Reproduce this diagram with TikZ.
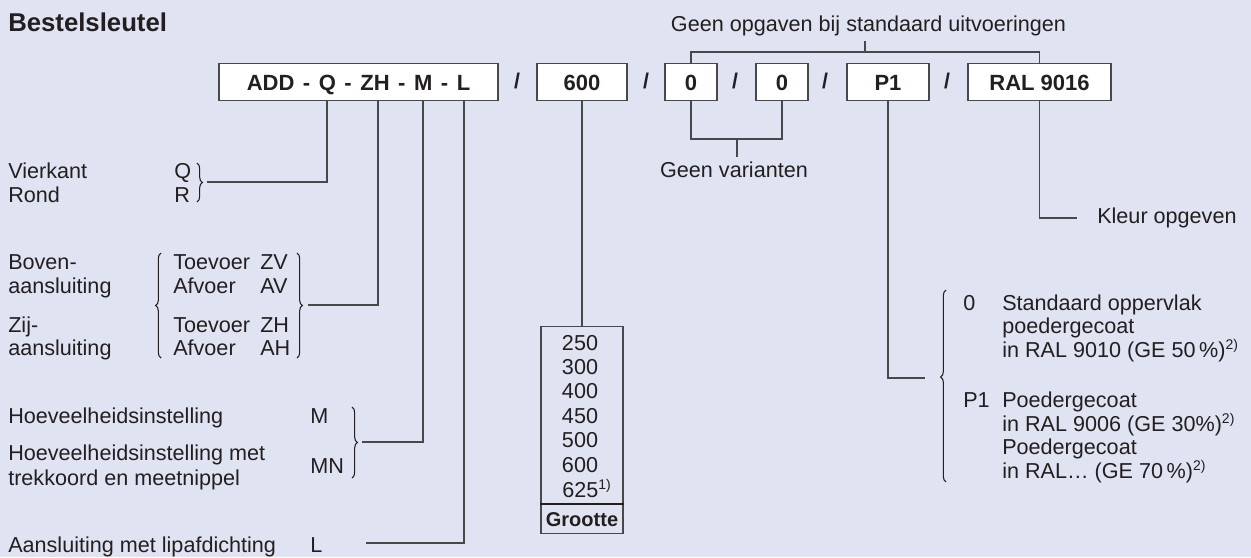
\documentclass[tikz,border=0pt]{standalone}
\usepackage{fontspec}
\setmainfont{Liberation Sans}
\usetikzlibrary{decorations.pathreplacing,calc}
\definecolor{bg}{RGB}{223,227,242}
\definecolor{ink}{RGB}{35,31,32}
\definecolor{linec}{RGB}{72,72,75}
\newcommand\supmark[1]{\raisebox{5.5pt}{\fontsize{10.5pt}{11pt}\selectfont #1}}
\begin{document}
\begin{tikzpicture}[x=0.75pt,y=-0.75pt,
  txt/.style={anchor=base west,inner sep=0pt,text=ink,font=\fontsize{16.2pt}{19pt}\selectfont},
  ctxt/.style={txt,anchor=base},
  keybox/.style={draw=linec,fill=white,line width=0.9pt,minimum height=27.75pt,inner sep=0pt,
    text height=12.8pt,text depth=0pt,text=ink,font=\fontsize{16.5pt}{19pt}\selectfont\bfseries},
  slash/.style={anchor=base,inner sep=0pt,text=ink,font=\fontsize{16pt}{19pt}\selectfont\bfseries},
  conn/.style={draw=linec,line width=0.9pt},
  brc/.style={draw=ink,line width=0.8pt,decorate,decoration={brace,amplitude=4pt}},
]
\fill[bg] (0,0) rectangle (1251,557);
\useasboundingbox (0,0) rectangle (1251,557);

% title
\node[txt,font=\fontsize{19.3pt}{22pt}\selectfont\bfseries] (title) at (8,31) {Bestelsleutel};

% top boxes
\node[keybox,minimum width=209.25pt] (key) at (358.5,82) {\spaceskip=6.4pt\relax ADD - Q - ZH - M - L};
\node[slash] (s1) at (517,88.5) {/};
\node[keybox,minimum width=67.5pt] (b600) at (582,82) {600};
\node[slash] (s2) at (646,88.5) {/};
\node[keybox,minimum width=39pt] (z1) at (691,82) {0};
\node[slash] (s3) at (735,88.5) {/};
\node[keybox,minimum width=39pt] (z2) at (782,82) {0};
\node[slash] (s4) at (825,88.5) {/};
\node[keybox,minimum width=61.5pt] (p1) at (888,82) {P1};
\node[slash] (s5) at (947,88.5) {/};
\node[keybox,minimum width=107.25pt] (ral) at (1039.5,82) {RAL 9016};

% top bracket
\node[ctxt] (geenop) at (868.5,31) {Geen opgaven bij standaard uitvoeringen};
\coordinate (topc) at (865,52);
\coordinate (topt) at (865,41);
\draw[conn] (z1.north) |- (topc) -| (ral.north);
\draw[conn] (topc) -- (topt);

% geen varianten
\coordinate (vmid) at (737,139);
\coordinate (vtick) at (737,157);
\node[ctxt] (geenvar) at (734,177) {Geen varianten};
\draw[conn] (z1.south) |- (vmid) -| (z2.south);
\draw[conn] (vmid) -- (vtick);

% left side: Q / R
\node[txt] (vierkant) at (8,178) {Vierkant};
\node[txt] (rond) at (8,202) {Rond};
\node[txt] (q) at (174,178) {Q};
\node[txt] (r) at (174,202) {R};
\draw[brc] (197,163) -- (197,202);
\coordinate (qrtip) at (207,182);
\coordinate (qx) at (327,0);
\draw[conn] (key.south -| qx) |- (qrtip);

% aansluiting
\node[txt] (boven) at (8,269) {Boven-};
\node[txt] (aans1) at (8,293) {aansluiting};
\node[txt] (zij) at (8,332) {Zij-};
\node[txt] (aans2) at (8,355) {aansluiting};
\node[txt] (tzv) at (173,269) {Toevoer};
\node[txt] (zv) at (260,269) {ZV};
\node[txt] (aav) at (173,293) {Afvoer};
\node[txt] (av) at (260,293) {AV};
\node[txt] (tzh) at (173,332) {Toevoer};
\node[txt] (zh) at (260,332) {ZH};
\node[txt] (aah) at (173,355) {Afvoer};
\node[txt] (ah) at (260,355) {AH};
\draw[brc] (161,358) -- (161,253);
\draw[brc] (297,253) -- (297,358);
\coordinate (zhtip) at (308,305);
\coordinate (zhx) at (378,0);
\draw[conn] (key.south -| zhx) |- (zhtip);

% hoeveelheid
\node[txt] (hoev1) at (8,423) {Hoeveelheidsinstelling};
\node[txt] (hoev2) at (8,460) {Hoeveelheidsinstelling met};
\node[txt] (hoev3) at (8,485) {trekkoord en meetnippel};
\node[txt] (m) at (310,423) {M};
\node[txt] (mn) at (310,473) {MN};
\draw[brc] (352,407) -- (352,478);
\coordinate (mtip) at (362,442);
\coordinate (mx) at (423,0);
\draw[conn] (key.south -| mx) |- (mtip);

% lipafdichting
\node[txt] (lip) at (8,552) {Aansluiting met lipafdichting};
\node[txt] (l) at (310,552) {L};
\coordinate (ltip) at (366,543);
\coordinate (lx) at (464,0);
\draw[conn] (key.south -| lx) |- (ltip);

% grootte
\node[draw=linec,fill=none,line width=0.9pt,minimum width=61.5pt,minimum height=155pt,inner sep=0pt] (groot) at (582,430) {};
\draw[conn] (b600.south) -- (groot.north);
\foreach \v [count=\i from 0] in {250,300,400,450,500,600}
  \node[ctxt] (g\v) at (580,350+24.45*\i) {\v};
\node[txt] (g625) at (562,497) {625\supmark{1)}};
\draw[draw=ink,line width=2pt] (groot.west |- 0,504) -- (groot.east |- 0,504);
\node[ctxt,font=\fontsize{15pt}{18pt}\selectfont\bfseries] (groottext) at (582,526.5) {Grootte};

% oppervlak
\draw[brc,decoration={brace,amplitude=4pt,aspect=0.547}] (946,482) -- (946,290);
\coordinate (ptip) at (925,378);
\draw[conn] (p1.south) |- (ptip);
\node[txt] (o0) at (963,310) {0};
\node[txt] (o1) at (1002,310) {Standaard oppervlak};
\node[txt] (o2) at (1002,333) {poedergecoat};
\node[txt] (o3) at (1002,357) {in RAL 9010 (GE 50\,\%)\supmark{2)}};
\node[txt] (op1) at (963,407) {P1};
\node[txt] (o4) at (1002,407) {Poedergecoat};
\node[txt] (o5) at (1002,431) {in RAL 9006 (GE 30\%)\supmark{2)}};
\node[txt] (o6) at (1002,454) {Poedergecoat};
\node[txt] (o7) at (1002,478) {in RAL… (GE 70\,\%)\supmark{2)}};

% kleur
\coordinate (ktip) at (1077,218);
\draw[conn] (ral.south) |- (ktip);
\node[txt] (kleur) at (1097,223) {Kleur opgeven};
\end{tikzpicture}
\end{document}
